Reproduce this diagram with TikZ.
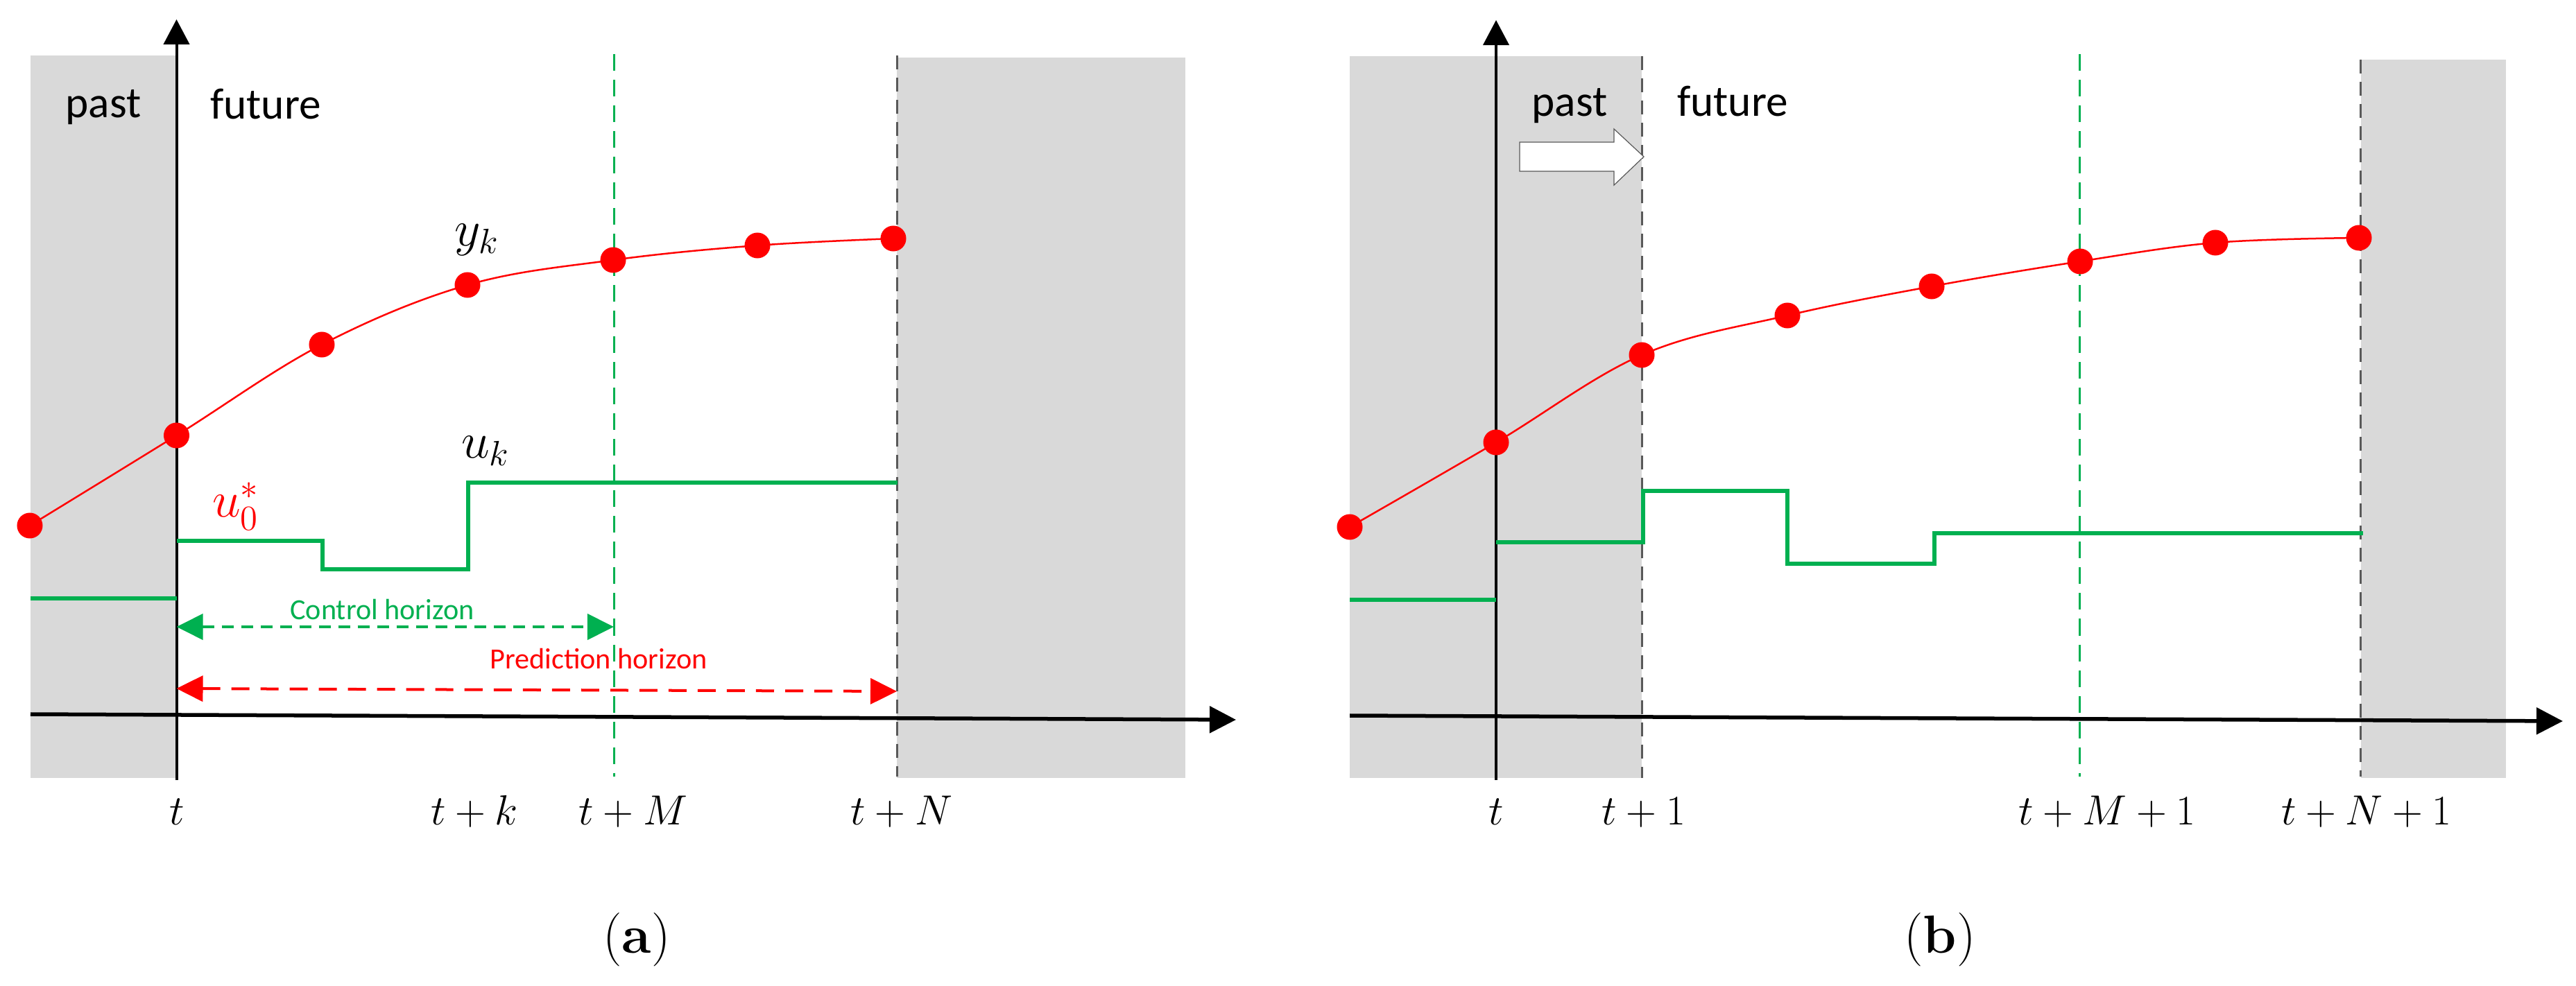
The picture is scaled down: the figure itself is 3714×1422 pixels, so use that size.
\documentclass[tikz,border=0pt]{standalone}
\usepackage{fontspec}
\newfontfamily\calfont{Carlito}
\usetikzlibrary{arrows.meta}
\definecolor{shade}{HTML}{D9D9D9}
\definecolor{mygreen}{HTML}{00B050}
\definecolor{myred}{HTML}{FF0000}
\definecolor{dashgray}{HTML}{595959}
\begin{document}
\begin{tikzpicture}[x=0.01cm,y=-0.01cm,
  shadebox/.style={fill=shade,draw=none},
  axisline/.style={line width=0.055cm,-{Triangle[length=0.38cm,width=0.38cm]}},
  vgray/.style={dashgray,line width=0.03cm,dash pattern=on 0.2cm off 0.12cm},
  vgreen/.style={mygreen,line width=0.03cm,dash pattern=on 0.24cm off 0.13cm},
  stepline/.style={mygreen,line width=0.055cm},
  curve/.style={myred,line width=0.025cm},
  dot/.style={circle,fill=myred,inner sep=0pt,minimum size=0.37cm},
  ctrlarrow/.style={mygreen,line width=0.04cm,dash pattern=on 0.17cm off 0.11cm,
     {Triangle[length=0.38cm,width=0.37cm]}-{Triangle[length=0.38cm,width=0.37cm]}},
  predarrow/.style={myred,line width=0.04cm,dash pattern=on 0.26cm off 0.16cm,
     {Triangle[length=0.38cm,width=0.37cm]}-{Triangle[length=0.38cm,width=0.37cm]}},
  ticklab/.style={anchor=base,inner sep=0pt,font=\fontsize{16.5}{19}\selectfont},
  mathlab/.style={inner sep=0pt,font=\fontsize{20}{23}\selectfont},
  wordlab/.style={anchor=base,inner sep=0pt,font=\calfont\fontsize{18}{21}\selectfont},
  horlab/.style={anchor=base,inner sep=0pt,font=\calfont\fontsize{12}{14}\selectfont},
  caplab/.style={inner sep=0pt,font=\fontsize{22}{26}\selectfont}
]
\useasboundingbox (0,0) rectangle (3714,1422);

% ================= panel (a) =================
\fill[shadebox] (44,80) rectangle (254.5,1122);
\fill[shadebox] (1293,83) rectangle (1709,1122);
\coordinate (aGt) at (885,78);   \coordinate (aGb) at (885,1120);
\coordinate (aNt) at (1293,80);  \coordinate (aNb) at (1293,1120);
\draw[vgreen] (aGt) -- (aGb);
\draw[vgray] (aNt) -- (aNb);
\coordinate (aX0) at (44,1030);  \coordinate (aX1) at (1782,1038);
\coordinate (aY0) at (254.5,1125); \coordinate (aY1) at (254.5,28);
\draw[axisline] (aX0) -- (aX1);
\draw[line width=0.04cm,-{Triangle[length=0.36cm,width=0.37cm]}] (aY0) -- (aY1);

% input steps
\coordinate (as0) at (44,863);   \coordinate (as1) at (254.5,863);
\draw[stepline] (as0) -- (as1);
\coordinate (as2) at (254.5,780); \coordinate (as3) at (465,780);
\coordinate (as4) at (465,821);   \coordinate (as5) at (675,821);
\coordinate (as6) at (675,696);   \coordinate (as7) at (1294,696);
\draw[stepline] (as2) -- (as3) -- (as4) -- (as5) -- (as6) -- (as7);

% output curve
\coordinate (ay0) at (43,758);
\coordinate (ay1) at (254.5,628);
\coordinate (ay2) at (464,497);
\coordinate (ay3) at (674,411);
\coordinate (ay4) at (884,375);
\coordinate (ay5) at (1092,354);
\coordinate (ay6) at (1288,344);
\draw[curve] plot[smooth,tension=0.6] coordinates {(ay0) (ay1) (ay2) (ay3) (ay4) (ay5) (ay6)};
\foreach \i in {0,...,6} \node[dot] (ad\i) at (ay\i) {};

% horizons
\coordinate (acL) at (254.5,904); \coordinate (acR) at (885,904);
\draw[ctrlarrow] (acL) -- (acR);
\coordinate (apL) at (254.5,993); \coordinate (apR) at (1293,997);
\draw[predarrow] (apL) -- (apR);
\node[horlab,mygreen] (actl) at (551,894) {Control horizon};
\node[horlab,myred] (apred) at (863,965) {Prediction horizon};

% labels
\node[wordlab] (apast) at (149,170) {past};
\node[wordlab] (afut) at (383,172) {future};
\node[mathlab] (ayk) at (688,346) {$y_k$};
\node[mathlab] (auk) at (700,650) {$u_k$};
\node[mathlab,myred] (au0) at (340,730) {$u_0^*$};
\node[ticklab] (at0) at (255,1189) {$t$};
\node[ticklab] (atk) at (684,1189) {$t+k$};
\node[ticklab] (atM) at (913,1189) {$t+M$};
\node[ticklab] (atN) at (1300,1189) {$t+N$};
\node[caplab] (acap) at (918,1355) {(\textbf{a})};

% ================= panel (b) =================
\fill[shadebox] (1946,81) rectangle (2367,1122);
\fill[shadebox] (3404,86) rectangle (3613,1122);
\coordinate (b1t) at (2367,81);  \coordinate (b1b) at (2367,1122);
\coordinate (bGt) at (2998,78);  \coordinate (bGb) at (2998,1120);
\coordinate (bNt) at (3403,86);  \coordinate (bNb) at (3403,1120);
\draw[vgray] (b1t) -- (b1b);
\draw[vgreen] (bGt) -- (bGb);
\draw[vgray] (bNt) -- (bNb);
\coordinate (bX0) at (1946,1032); \coordinate (bX1) at (3695,1040);
\coordinate (bY0) at (2157,1125); \coordinate (bY1) at (2157,29);
\draw[axisline] (bX0) -- (bX1);
\draw[line width=0.04cm,-{Triangle[length=0.36cm,width=0.37cm]}] (bY0) -- (bY1);

% shift arrow
\draw[fill=white,draw=dashgray,line width=0.012cm]
  (2191,205) -- (2327,205) -- (2327,186) -- (2370,226) -- (2327,267) -- (2327,247) -- (2191,247) -- cycle;

% input steps
\coordinate (bs0) at (1946,865);  \coordinate (bs1) at (2157,865);
\draw[stepline] (bs0) -- (bs1);
\coordinate (bs2) at (2157,782);  \coordinate (bs3) at (2369,782);
\coordinate (bs4) at (2369,708);  \coordinate (bs5) at (2577,708);
\coordinate (bs6) at (2577,813);  \coordinate (bs7) at (2789,813);
\coordinate (bs8) at (2789,769);  \coordinate (bs9) at (3407,769);
\draw[stepline] (bs2) -- (bs3) -- (bs4) -- (bs5) -- (bs6) -- (bs7) -- (bs8) -- (bs9);

% output curve
\coordinate (by0) at (1946,760);
\coordinate (by1) at (2157,638);
\coordinate (by2) at (2367,512);
\coordinate (by3) at (2577,455);
\coordinate (by4) at (2785,413);
\coordinate (by5) at (2999,377);
\coordinate (by6) at (3194,350);
\coordinate (by7) at (3401,343);
\draw[curve] plot[smooth,tension=0.6] coordinates {(by0) (by1) (by2) (by3) (by4) (by5) (by6) (by7)};
\foreach \i in {0,...,7} \node[dot] (bd\i) at (by\i) {};

% labels
\node[wordlab] (bpast) at (2263,168) {past};
\node[wordlab] (bfut) at (2498,168) {future};
\node[ticklab] (bt0) at (2157,1189) {$t$};
\node[ticklab] (bt1) at (2370,1189) {$t+1$};
\node[ticklab] (btM) at (3038,1189) {$t+M+1$};
\node[ticklab] (btN) at (3412,1189) {$t+N+1$};
\node[caplab] (bcap) at (2797,1355) {(\textbf{b})};
\end{tikzpicture}
\end{document}
